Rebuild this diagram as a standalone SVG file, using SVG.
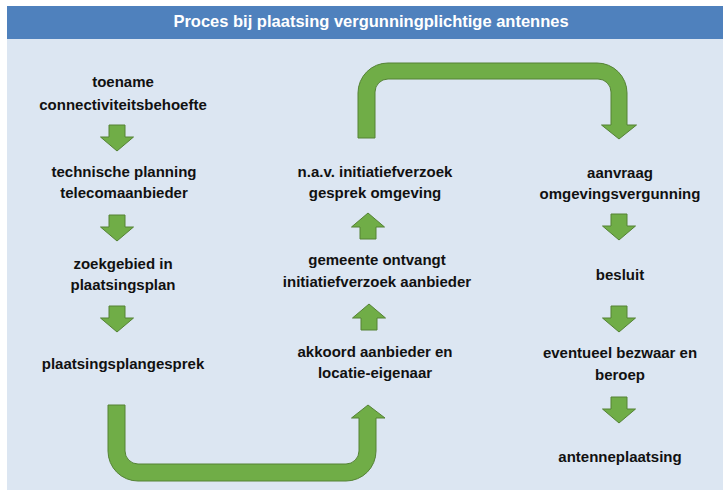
<svg xmlns="http://www.w3.org/2000/svg" xmlns:xlink="http://www.w3.org/1999/xlink" width="723" height="490" viewBox="0 0 723 490">
  <style>
    .lbl { font-family: "Liberation Sans", Arial, sans-serif; font-weight: bold; font-size: 15px; fill: #111111; text-anchor: middle; }
    .title { font-family: "Liberation Sans", Arial, sans-serif; font-weight: bold; font-size: 16.5px; fill: #ffffff; text-anchor: middle; }
    .arr { fill: #70AD47; stroke: #548235; stroke-width: 1; stroke-linejoin: miter; }
  </style>
  <defs>
    <path id="down" d="M-8,0 H8 V12 H16.5 L0,26 L-16.5,12 H-8 Z"/>
    <path id="up" d="M0,0 L16.5,14 H8 V26 H-8 V14 H-16.5 Z"/>
  </defs>
  <rect x="0" y="0" width="723" height="490" fill="#ffffff"/>
  <rect x="7" y="39" width="716" height="451" fill="#DCE6F2"/>
  <g id="titlebar">
    <rect x="7" y="6" width="716" height="33" fill="#4F81BD"/>
    <text class="title" x="371" y="27">Proces bij plaatsing vergunningplichtige antennes</text>
  </g>

  <g id="connectors">
    <use href="#down" class="arr" transform="translate(117,125)"/>
    <use href="#down" class="arr" transform="translate(117,215)"/>
    <use href="#down" class="arr" transform="translate(117,306)"/>
    <use href="#up" class="arr" transform="translate(368,213)"/>
    <use href="#up" class="arr" transform="translate(369,304)"/>
    <use href="#down" class="arr" transform="translate(619,214)"/>
    <use href="#down" class="arr" transform="translate(619,306)"/>
    <use href="#down" class="arr" transform="translate(619,397)"/>
    <path class="arr" d="M108,405 V451 A30,30 0 0 0 138,481 H346 A30,30 0 0 0 376,451 V418 H385 L368,405 L351.5,418 H359 V451 A13,13 0 0 1 346,464 H138 A13,13 0 0 1 125,451 V405 Z"/>
    <path class="arr" d="M358,138 V93 A30,30 0 0 1 388,63 H597 A30,30 0 0 1 627,93 V125 H636.5 L619,139 L601.5,125 H611 V92 A13,13 0 0 0 598,79 H388 A13,13 0 0 0 375,92 V138 Z"/>
  </g>

  <g id="n1"><text class="lbl" x="123" y="87">toename</text><text class="lbl" x="123" y="109.5">connectiviteitsbehoefte</text></g>
  <g id="n2"><text class="lbl" x="124" y="177">technische planning</text><text class="lbl" x="124" y="198">telecomaanbieder</text></g>
  <g id="n3"><text class="lbl" x="123" y="269">zoekgebied in</text><text class="lbl" x="123" y="290">plaatsingsplan</text></g>
  <g id="n4"><text class="lbl" x="123" y="369">plaatsingsplangesprek</text></g>

  <g id="n5"><text class="lbl" x="375" y="357">akkoord aanbieder en</text><text class="lbl" x="375" y="378">locatie-eigenaar</text></g>
  <g id="n6"><text class="lbl" x="377" y="265">gemeente ontvangt</text><text class="lbl" x="377" y="287">initiatiefverzoek  aanbieder</text></g>
  <g id="n7"><text class="lbl" x="375" y="177">n.a.v. initiatiefverzoek</text><text class="lbl" x="375" y="198">gesprek omgeving</text></g>

  <g id="n8"><text class="lbl" x="620" y="178">aanvraag</text><text class="lbl" x="620" y="198.5">omgevingsvergunning</text></g>
  <g id="n9"><text class="lbl" x="620" y="280">besluit</text></g>
  <g id="n10"><text class="lbl" x="620" y="358">eventueel bezwaar en</text><text class="lbl" x="620" y="380">beroep</text></g>
  <g id="n11"><text class="lbl" x="620" y="462">antenneplaatsing</text></g>
</svg>
